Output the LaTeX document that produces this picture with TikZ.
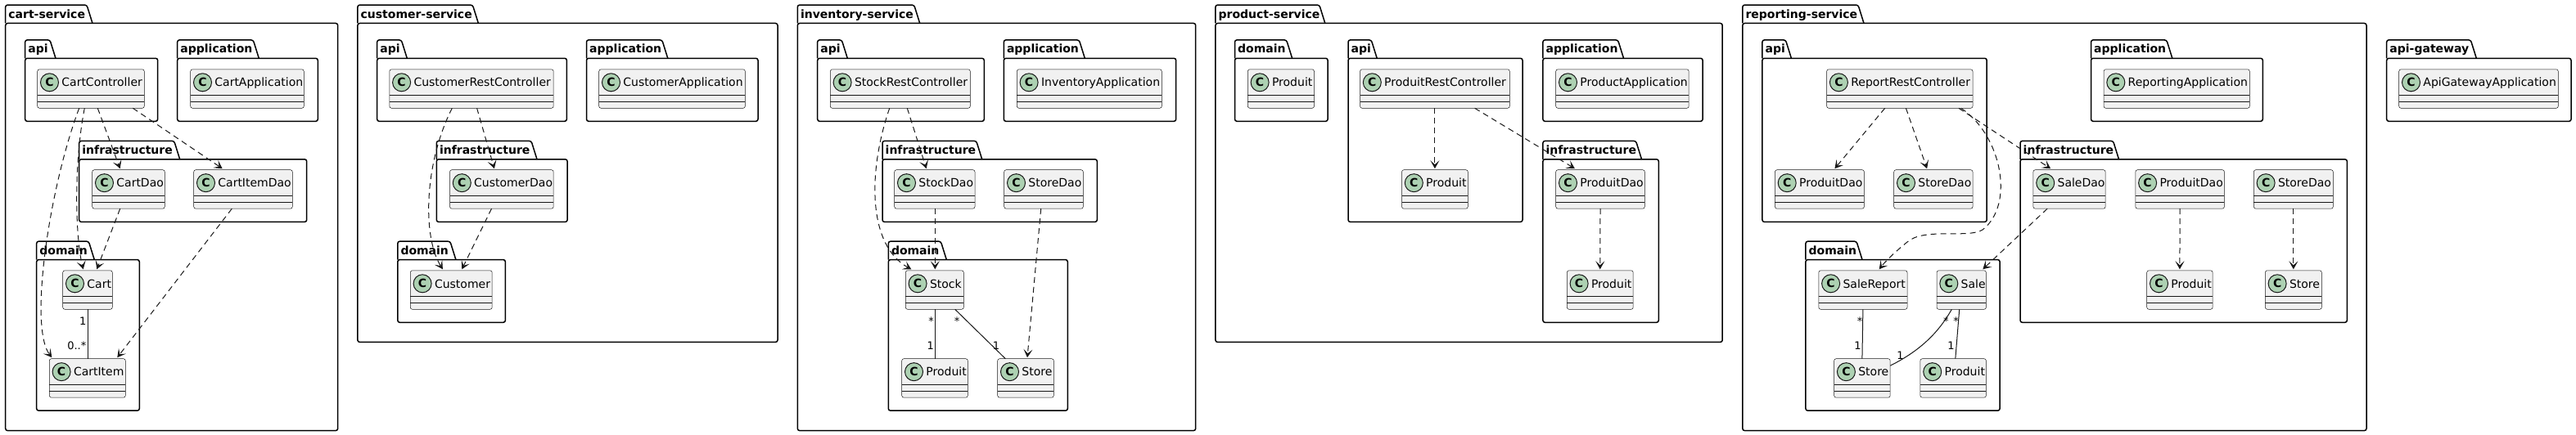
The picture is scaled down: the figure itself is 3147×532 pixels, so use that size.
\documentclass[tikz,border=0pt]{standalone}
\usepackage{fontspec}
\setmainfont{DejaVu Sans}
\usetikzlibrary{arrows.meta,calc}

\definecolor{umlline}{HTML}{181818}
\definecolor{classbg}{HTML}{F1F1F1}
\definecolor{spotbg}{HTML}{ADD1B2}

% package: id, left, tab top, tab right, right, bottom, label
\newcommand{\umlpkg}[7]{%
  \draw[pkgline] (#2,{#3+22.4}) -- (#2,#3) -- (#4,#3) -- ({#4+7},{#3+22.4});
  \draw[pkgline] (#2,{#3+22.4}) rectangle (#5,#6);
  \node[pkglabel] (#1) at ({#2+3.5},{#3+16}) {#7};
}
% class: id, left, top, right, label
\newcommand{\umlclass}[5]{%
  \node[classbox, minimum width={(#4-#2)*1pt}, anchor=north west] (#1) at (#2,#3) {};
  \draw[classsep] (#2,{#3+31.6}) -- (#4,{#3+31.6}) (#2,{#3+39.7}) -- (#4,{#3+39.7});
  \node[classcirc] (#1-c) at ({#2+14.8},{#3+16}) {C};
  \node[classname] (#1-t) at ({#2+29.5},{#3+21.2}) {#5};
}

\begin{document}
\begin{tikzpicture}[x=1pt,y=1pt,yscale=-1,
  pkgline/.style={draw=black,line width=1.5pt,fill=white,rounded corners=2.5pt},
  pkglabel/.style={anchor=base west,inner sep=0pt,font=\fontsize{14}{16}\selectfont\bfseries},
  classbox/.style={draw=umlline,line width=0.5pt,fill=classbg,rounded corners=2.5pt,minimum height=47.5pt,inner sep=0pt,outer sep=0pt},
  classsep/.style={draw=umlline,line width=0.5pt},
  classcirc/.style={circle,draw=umlline,line width=1pt,fill=spotbg,minimum size=22pt,inner sep=0pt,font=\fontsize{14}{16}\selectfont\bfseries},
  classname/.style={anchor=base west,inner sep=0pt,font=\fontsize{14}{16}\selectfont},
  dep/.style={draw=umlline,line width=1pt,dash pattern=on 7pt off 5pt,-{Stealth[length=10pt,width=11pt,inset=5pt]}},
  assoc/.style={draw=umlline,line width=1pt},
  mult/.style={inner sep=0pt,font=\fontsize{13}{15}\selectfont}]
\useasboundingbox (0,0) rectangle (3147,532);

% cart-service
\umlpkg{cartsvc}{6.7}{6.1}{106}{412.7}{526.6}{cart-service}
\umlpkg{cartapi}{30.7}{48.9}{61}{192.7}{148.3}{api}
\umlpkg{cartapp}{216.7}{48.9}{309.3}{388.3}{148.3}{application}
\umlpkg{cartinfra}{96.7}{172.4}{212.7}{374.7}{271.4}{infrastructure}
\umlpkg{cartdom}{44.7}{295.2}{108.3}{170.3}{502.2}{domain}
\umlclass{cartctl}{45.7}{84.8}{176.3}{CartController}
\umlclass{cartappc}{232.7}{84.8}{371.3}{CartApplication}
\umlclass{cartdao}{112.7}{207.7}{201.3}{CartDao}
\umlclass{cartitemdao}{236.7}{207.7}{357.3}{CartItemDao}
\umlclass{cart}{76.7}{330.8}{137.3}{Cart}
\umlclass{cartitem}{60.3}{438.7}{153.3}{CartItem}
\draw[dep] ($(cartctl.south west)+(51,0)$) .. controls (60,230) and (35,400) .. ($(cartitem.north west)+(3,-1.5)$);
\draw[dep] ($(cartctl.south west)+(57.6,0)$) .. controls (90,200) and (92,290) .. ($(cart.north west)+(25,-1.5)$);
\draw[dep] ($(cartctl.south west)+(73.6,0)$) -- ($(cartdao.north west)+(34,-1.5)$);
\draw[dep] ($(cartctl.south west)+(116.6,0)$) -- ($(cartitemdao.north west)+(35,-1.5)$);
\draw[dep] ($(cartdao.south west)+(34,0)$) -- ($(cart.north west)+(41.6,-1.5)$);
\draw[dep] ($(cartitemdao.south west)+(46.6,0)$) -- ($(cartitem.north west)+(83,-1.5)$);
\draw[assoc] ($(cart.south west)+(30.6,0)$) -- ($(cartitem.north west)+(47,0)$);
\node[mult,anchor=base east] (cartm1) at (105.5,397.5) {1};
\node[mult,anchor=base east] (cartm2) at (105.5,427) {0..*};

% customer-service
\umlpkg{custsvc}{436.9}{6.1}{577.4}{950}{418.4}{customer-service}
\umlpkg{custapi}{460.7}{48.9}{490.3}{692.4}{148.3}{api}
\umlpkg{custapp}{716.5}{48.9}{808.8}{926}{148.3}{application}
\umlpkg{custinfra}{533.3}{172.4}{649}{693.1}{271.4}{infrastructure}
\umlpkg{custdom}{485.8}{295.2}{549.9}{617.4}{394.3}{domain}
\umlclass{custctl}{475.8}{84.8}{676.2}{CustomerRestController}
\umlclass{custappc}{731.7}{84.8}{910.4}{CustomerApplication}
\umlclass{custdao}{549.5}{207.7}{676.2}{CustomerDao}
\umlclass{customer}{501.3}{330.8}{601.2}{Customer}
\draw[dep] ($(custctl.south west)+(76.5,0)$) .. controls (518,200) and (516,290) .. ($(customer.north west)+(39.6,-1.5)$);
\draw[dep] ($(custctl.south west)+(106.8,0)$) -- ($(custdao.north west)+(54.4,-1.5)$);
\draw[dep] ($(custdao.south west)+(51,0)$) -- ($(customer.north west)+(63,-1.5)$);

% inventory-service
\umlpkg{invsvc}{974.3}{6.1}{1116.7}{1460.7}{526.6}{inventory-service}
\umlpkg{invapi}{998.7}{48.9}{1028.3}{1202.3}{148.3}{api}
\umlpkg{invapp}{1226.3}{48.9}{1318.3}{1436.7}{148.3}{application}
\umlpkg{invinfra}{1078}{172.4}{1192.7}{1340.3}{271.4}{infrastructure}
\umlpkg{invdom}{1085.3}{295.2}{1149.3}{1304.3}{502.2}{domain}
\umlclass{stockctl}{1014.3}{84.8}{1185.3}{StockRestController}
\umlclass{invappc}{1242.3}{84.8}{1419.3}{InventoryApplication}
\umlclass{stockdao}{1092.7}{207.7}{1191}{StockDao}
\umlclass{invstoredao}{1226.7}{207.7}{1323.3}{StoreDao}
\umlclass{stock}{1106.3}{330.8}{1177.3}{Stock}
\umlclass{invprod}{1101.7}{438.7}{1182.3}{Produit}
\umlclass{invstore}{1218.7}{438.7}{1287.3}{Store}
\draw[dep] ($(stockctl.south west)+(72.4,0)$) .. controls (1060,210) and (1060,300) .. ($(stock.north west)+(7,-1.5)$);
\draw[dep] ($(stockctl.south west)+(94,0)$) -- ($(stockdao.north west)+(39,-1.5)$);
\draw[dep] ($(stockdao.south west)+(49.6,0)$) -- ($(stock.north west)+(36,-1.5)$);
\draw[dep] ($(invstoredao.south west)+(45,0)$) -- ($(invstore.north west)+(36.3,-1.5)$);
\draw[assoc] ($(stock.south west)+(36,0)$) -- ($(invprod.north west)+(40.6,0)$);
\draw[assoc] ($(stock.south west)+(60.4,0)$) -- ($(invstore.north west)+(9.6,0)$);
\node[mult,anchor=base east] (invm1) at (1141,397.5) {*};
\node[mult,anchor=base east] (invm2) at (1141,427) {1};
\node[mult,anchor=base] (invm3) at (1169,397.5) {*};
\node[mult,anchor=base] (invm4) at (1217,427) {1};

% product-service
\umlpkg{prodsvc}{1484.9}{6.1}{1611.8}{2104.2}{418.4}{product-service}
\umlpkg{proddom}{1508.5}{48.9}{1571.6}{1622.1}{148.3}{domain}
\umlpkg{prodapi}{1647}{48.9}{1675.2}{1860}{271.4}{api}
\umlpkg{prodapp}{1884.9}{48.9}{1976.5}{2080.1}{148.3}{application}
\umlpkg{prodinfra}{1884.9}{172.4}{1998.5}{2026.3}{394.3}{infrastructure}
\umlclass{proddomprod}{1524.3}{84.8}{1605.5}{Produit}
\umlclass{prodctl}{1661.5}{84.8}{1844.3}{ProduitRestController}
\umlclass{prodappc}{1900.7}{84.8}{2063.2}{ProductApplication}
\umlclass{prodapiprod}{1712.5}{207.7}{1793.3}{Produit}
\umlclass{proddao}{1900.7}{207.7}{2009.3}{ProduitDao}
\umlclass{prodinfraprod}{1914.3}{330.8}{1995.2}{Produit}
\draw[dep] (prodctl.south) -- ($(prodapiprod.north)+(0,-1.5)$);
\draw[dep] ($(prodctl.south west)+(140.1,0)$) -- ($(proddao.north west)+(23.2,-1.5)$);
\draw[dep] (proddao.south) -- ($(prodinfraprod.north)+(0,-1.5)$);

% reporting-service
\umlpkg{repsvc}{2128.8}{6.1}{2270}{2891}{526.6}{reporting-service}
\umlpkg{repapi}{2152.9}{48.9}{2181.4}{2427.2}{271.4}{api}
\umlpkg{repapp}{2554.5}{48.9}{2646.8}{2764.3}{148.3}{application}
\umlpkg{repinfra}{2468}{172.4}{2581.5}{2867.3}{394.3}{infrastructure}
\umlpkg{repdom}{2205.9}{295.2}{2268}{2443.1}{502.2}{domain}
\umlclass{repctl}{2231.6}{84.8}{2410}{ReportRestController}
\umlclass{repappc}{2570}{84.8}{2748.3}{ReportingApplication}
\umlclass{apiproddao}{2168.4}{207.7}{2277.4}{ProduitDao}
\umlclass{apistoredao}{2313.7}{207.7}{2410}{StoreDao}
\umlclass{saledao}{2483.9}{207.7}{2572.1}{SaleDao}
\umlclass{repproddao}{2608.8}{207.7}{2717.4}{ProduitDao}
\umlclass{repstoredao}{2753.3}{207.7}{2850.3}{StoreDao}
\umlclass{repinfraprod}{2622.7}{330.8}{2703.1}{Produit}
\umlclass{repinfrastore}{2767.3}{330.8}{2836.3}{Store}
\umlclass{salereport}{2221.8}{330.8}{2330}{SaleReport}
\umlclass{sale}{2366}{330.8}{2426.4}{Sale}
\umlclass{repstore}{2240.6}{438.7}{2309.2}{Store}
\umlclass{repprod}{2345.9}{438.7}{2426.4}{Produit}
\draw[dep] ($(repctl.south west)+(71.1,0)$) -- ($(apiproddao.north west)+(73,-1.5)$);
\draw[dep] ($(repctl.south west)+(96.8,0)$) -- ($(apistoredao.north west)+(40.4,-1.5)$);
\draw[dep] ($(repctl.south west)+(161.3,0)$) -- ($(saledao.north west)+(21.2,-1.5)$);
\draw[dep] ($(repctl.south west)+(164.1,0)$) .. controls (2445,165) and (2462,250) .. (2422,281) .. controls (2405,292) and (2350,278) .. (2330,296) .. controls (2315,308) and (2303,320) .. ($(salereport.north west)+(73.9,-1.5)$);
\draw[dep] ($(saledao.south west)+(17.2,0)$) -- ($(sale.north west)+(56.3,-1.5)$);
\draw[dep] (repproddao.south) -- ($(repinfraprod.north)+(0,-1.5)$);
\draw[dep] (repstoredao.south) -- ($(repinfrastore.north)+(0,-1.5)$);
\draw[assoc] (salereport.south) -- (repstore.north);
\draw[assoc] ($(sale.south west)+(18.3,0)$) .. controls (2372,400) and (2352,426) .. ($(repstore.north east)+(0,8.5)$);
\draw[assoc] ($(sale.south west)+(27.7,0)$) -- ($(repprod.north west)+(42.9,0)$);
\node[mult,anchor=base] (repm1) at (2272,397.5) {*};
\node[mult,anchor=base] (repm2) at (2269.5,427) {1};
\node[mult,anchor=base] (repm3) at (2377.4,397.5) {*};
\node[mult,anchor=base] (repm4) at (2321.4,439) {1};
\node[mult,anchor=base] (repm5) at (2389.6,397.5) {*};
\node[mult,anchor=base] (repm6) at (2383.5,427) {1};

% api-gateway
\umlpkg{gwsvc}{2915.7}{48.9}{3018.3}{3141}{148.3}{api-gateway}
\umlclass{gwappc}{2930.7}{84.8}{3125.3}{ApiGatewayApplication}

\end{tikzpicture}
\end{document}
